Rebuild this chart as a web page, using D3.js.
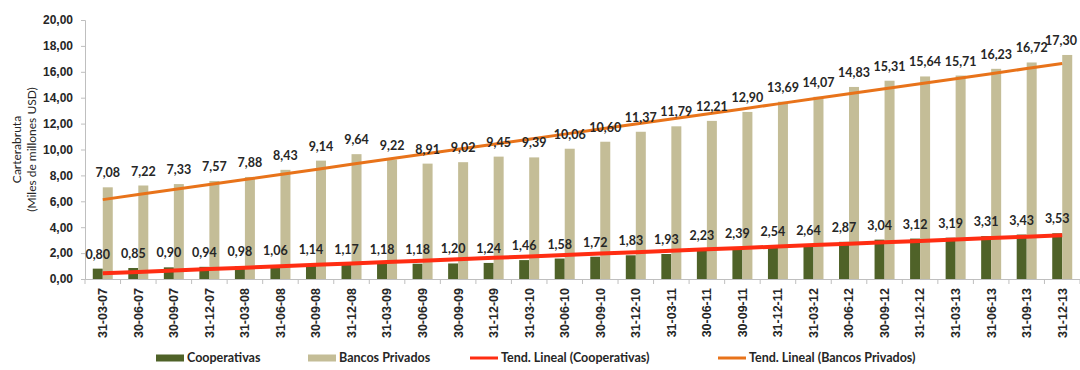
<!DOCTYPE html>
<html>
<head>
<meta charset="utf-8">
<script src="https://cdn.jsdelivr.net/npm/d3@7/dist/d3.min.js"></script>
<style>
  html, body { margin: 0; padding: 0; background: #fff; }
  svg { display: block; font-family: Lato, "Open Sans", sans-serif; }
</style>
</head>
<body>
<svg id="chart" width="1080" height="370"></svg>
<script>
// Quarter-end dates (as printed on the axis)
const fechas = [
  "31-03-07","30-06-07","30-09-07","31-12-07",
  "31-03-08","31-06-08","30-09-08","31-12-08",
  "31-03-09","30-06-09","30-09-09","31-12-09",
  "31-03-10","30-06-10","30-09-10","31-12-10",
  "31-03-11","30-06-11","30-09-11","31-12-11",
  "31-03-12","30-06-12","30-09-12","31-12-12",
  "31-03-13","31-06-13","31-09-13","31-12-13"
];

// Cartera bruta, miles de millones USD
const cooperativas = [
  0.80, 0.85, 0.90, 0.94, 0.98, 1.06, 1.14, 1.17,
  1.18, 1.18, 1.20, 1.24, 1.46, 1.58, 1.72, 1.83,
  1.93, 2.23, 2.39, 2.54, 2.64, 2.87, 3.04, 3.12,
  3.19, 3.31, 3.43, 3.53
];
const bancosPrivados = [
  7.08, 7.22, 7.33, 7.57, 7.88, 8.43, 9.14, 9.64,
  9.22, 8.91, 9.02, 9.45, 9.39, 10.06, 10.60, 11.37,
  11.79, 12.21, 12.90, 13.69, 14.07, 14.83, 15.31, 15.64,
  15.71, 16.23, 16.72, 17.30
];

const yTicks = [0, 2, 4, 6, 8, 10, 12, 14, 16, 18, 20];

const seriesNames = ["Cooperativas", "Bancos Privados"];
const trendNames = ["Tend. Lineal (Cooperativas)", "Tend. Lineal (Bancos Privados)"];

const colors = {
  coop: "#4f6228",
  bancos: "#c4bd97",
  trendCoop: "#ff2d12",
  trendBancos: "#e8731a",
  axis: "#bfbfbf",
  text: "#262626"
};

const fmt = v => v.toFixed(2).replace(".", ",");

// Least-squares line over the category index
function linearFit(values) {
  const n = values.length;
  const xs = d3.range(n);
  const mx = d3.mean(xs), my = d3.mean(values);
  let sxy = 0, sxx = 0;
  xs.forEach((x, i) => { sxy += (x - mx) * (values[i] - my); sxx += (x - mx) * (x - mx); });
  const b = sxy / sxx, a = my - b * mx;
  return xs.map(x => a + b * x);
}

const W = 1080;
const svg = d3.select("#chart");
const plot = { left: 85, right: 1080, top: 20, bottom: 279 };

const x = d3.scaleBand().domain(fechas).range([plot.left, plot.right]).paddingInner(0).paddingOuter(0);
const barW = 10;
const y = d3.scaleLinear().domain([0, 20]).range([plot.bottom, plot.top]);

const center = d => x(d) + x.bandwidth() / 2;

// Y axis
const yAxis = svg.append("g")
  .attr("transform", `translate(${plot.left},0)`)
  .call(d3.axisLeft(y).tickValues(yTicks).tickFormat(fmt).tickSize(4).tickPadding(8));
yAxis.select(".domain").attr("stroke", colors.axis);
yAxis.selectAll(".tick line").attr("stroke", colors.axis);
yAxis.selectAll(".tick text")
  .attr("fill", colors.text)
  .style("font-size", "12px")
  .style("font-weight", "700");

// X axis with ticks on category boundaries
const xAxis = svg.append("g")
  .attr("transform", `translate(0,${plot.bottom})`)
  .call(d3.axisBottom(x).tickSize(0).tickPadding(8));
xAxis.select(".domain").attr("stroke", colors.axis);
xAxis.selectAll(".tick text")
  .attr("transform", "rotate(-90)")
  .attr("text-anchor", "end")
  .attr("dy", "0.35em")
  .attr("x", -9)
  .attr("y", 0)
  .attr("fill", colors.text)
  .style("font-size", "12.5px")
  .style("font-weight", "700");
svg.append("g").selectAll("line")
  .data(d3.range(fechas.length + 1))
  .join("line")
  .attr("x1", i => plot.left + i * x.step())
  .attr("x2", i => plot.left + i * x.step())
  .attr("y1", plot.bottom)
  .attr("y2", plot.bottom + 5)
  .attr("stroke", colors.axis);

// Bars
const bars = svg.append("g");
bars.selectAll("rect.coop")
  .data(cooperativas)
  .join("rect")
  .attr("class", "coop")
  .attr("x", (d, i) => center(fechas[i]) - barW)
  .attr("y", d => y(d))
  .attr("width", barW)
  .attr("height", d => y(0) - y(d))
  .attr("fill", colors.coop);
bars.selectAll("rect.bancos")
  .data(bancosPrivados)
  .join("rect")
  .attr("class", "bancos")
  .attr("x", (d, i) => center(fechas[i]))
  .attr("y", d => y(d))
  .attr("width", barW)
  .attr("height", d => y(0) - y(d))
  .attr("fill", colors.bancos);

// Linear trend lines
const line = d3.line().x((d, i) => center(fechas[i])).y(d => y(d));
svg.append("path")
  .datum(linearFit(cooperativas))
  .attr("d", line)
  .attr("fill", "none")
  .attr("stroke", colors.trendCoop)
  .attr("stroke-width", 4);
svg.append("path")
  .datum(linearFit(bancosPrivados))
  .attr("d", line)
  .attr("fill", "none")
  .attr("stroke", colors.trendBancos)
  .attr("stroke-width", 3);

// Value labels
const labels = svg.append("g")
  .style("font-size", "12.5px")
  .style("font-weight", "700")
  .attr("fill", colors.text)
  .attr("text-anchor", "middle");
labels.selectAll("text.coop")
  .data(cooperativas)
  .join("text")
  .attr("class", "coop")
  .attr("x", (d, i) => center(fechas[i]) - barW / 2)
  .attr("y", d => y(d) - 10)
  .text(fmt);
labels.selectAll("text.bancos")
  .data(bancosPrivados)
  .join("text")
  .attr("class", "bancos")
  .attr("x", (d, i) => center(fechas[i]) + barW / 2)
  .attr("y", d => y(d) - 10)
  .text(fmt);
// keep labels inside the drawing area
labels.selectAll("text").each(function () {
  const bb = this.getBBox();
  const overflow = bb.x + bb.width - (W - 3);
  if (overflow > 0) d3.select(this).attr("x", +d3.select(this).attr("x") - overflow);
});

// Y axis title
const yTitle = svg.append("text")
  .attr("transform", `translate(21,${(plot.top + plot.bottom) / 2}) rotate(-90)`)
  .attr("text-anchor", "middle")
  .attr("fill", colors.text)
  .style("font-size", "12px");
yTitle.append("tspan").attr("x", 0).attr("dy", 0).text("Carterabruta");
yTitle.append("tspan").attr("x", 0).attr("dy", 15).text("(Miles de millones USD)");

// Legend
const legend = svg.append("g")
  .style("font-size", "12.5px")
  .style("font-weight", "700")
  .attr("fill", colors.text);
const legendItems = [
  { name: seriesNames[0], color: colors.coop, kind: "rect", x: 156 },
  { name: seriesNames[1], color: colors.bancos, kind: "rect", x: 308 },
  { name: trendNames[0], color: colors.trendCoop, kind: "line", x: 470 },
  { name: trendNames[1], color: colors.trendBancos, kind: "line", x: 718 }
];
const ly = 358;
legendItems.forEach(it => {
  if (it.kind === "rect") {
    legend.append("rect").attr("x", it.x).attr("y", ly - 3.5).attr("width", 28).attr("height", 7).attr("fill", it.color);
  } else {
    legend.append("line").attr("x1", it.x).attr("x2", it.x + 28).attr("y1", ly).attr("y2", ly)
      .attr("stroke", it.color).attr("stroke-width", 3);
  }
  legend.append("text").attr("x", it.x + 31).attr("y", ly).attr("dy", "0.35em").text(it.name);
});
</script>
</body>
</html>
